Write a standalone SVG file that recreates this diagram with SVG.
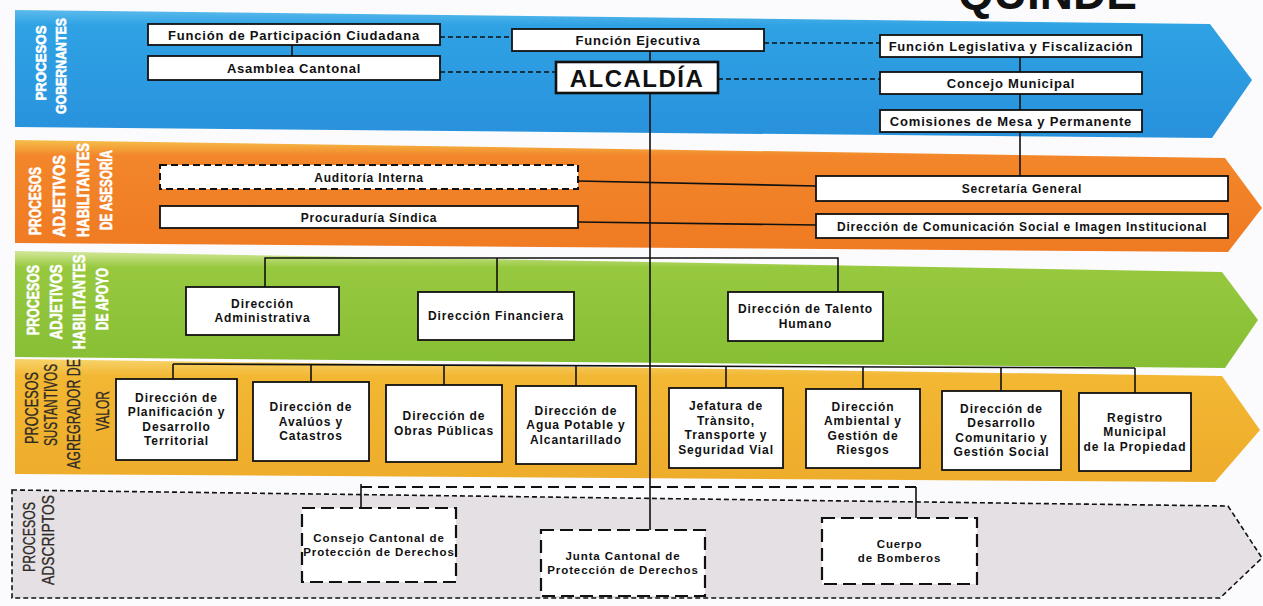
<svg xmlns="http://www.w3.org/2000/svg" width="1263" height="606" viewBox="0 0 1263 606">
<defs>
<linearGradient id="gBlue" x1="0" y1="0" x2="0" y2="1">
<stop offset="0" stop-color="#5bbbec"/><stop offset="0.12" stop-color="#2fa2e4"/><stop offset="1" stop-color="#2891dc"/>
</linearGradient>
<linearGradient id="gOrange" x1="0" y1="0" x2="0" y2="1">
<stop offset="0" stop-color="#f4c04a"/><stop offset="0.14" stop-color="#f3862a"/><stop offset="1" stop-color="#ef7a22"/>
</linearGradient>
<linearGradient id="gGreen" x1="0" y1="0" x2="0" y2="1">
<stop offset="0" stop-color="#d2e79a"/><stop offset="0.14" stop-color="#97c93f"/><stop offset="1" stop-color="#86be34"/>
</linearGradient>
<linearGradient id="gGold" x1="0" y1="0" x2="0" y2="1">
<stop offset="0" stop-color="#f7d36a"/><stop offset="0.14" stop-color="#f2b733"/><stop offset="1" stop-color="#eeac2b"/>
</linearGradient>
</defs>
<style>
.box{fill:#fff;stroke:#111;stroke-width:1.8}
.dbox{fill:#fff;stroke:#111;stroke-width:2;stroke-dasharray:7 4}
.abox{fill:#fff;stroke:#111;stroke-width:2.2;stroke-dasharray:13 6}
.t{font-family:"Liberation Sans",Arial,sans-serif;font-weight:bold;font-size:12px;letter-spacing:0.9px;fill:#111;text-anchor:middle}
.t1{font-size:13px;letter-spacing:0.8px}
.t2{font-size:12px;letter-spacing:0.8px}
.t5{font-size:11.5px}
.big{font-size:24px;letter-spacing:1.5px}
.ln{stroke:#111;stroke-width:1.6;fill:none}
.dl{stroke:#111;stroke-width:1.6;fill:none;stroke-dasharray:5 3}
.bus{stroke:#111;stroke-width:1.8;fill:none;stroke-dasharray:11 6}
.lw{font-family:"Liberation Sans Narrow","Liberation Sans",Arial,sans-serif;font-weight:bold;font-size:17px;fill:#fff;stroke:#fff;stroke-width:0.6;text-anchor:middle}
.ld{font-family:"Liberation Sans Narrow","Liberation Sans",Arial,sans-serif;font-size:18px;fill:#2e2a25;stroke:#2e2a25;stroke-width:0.3;text-anchor:middle}
</style>
<rect width="1263" height="606" fill="#fbfbfd"/>
<text x="1137" y="9" style="font-family:'Liberation Sans',Arial,sans-serif;font-weight:bold;font-size:46px;fill:#111;text-anchor:end">QUINDE</text>

<g id="bands">
<polygon points="15,10 1210,24 1252,80 1212,138 15,127" fill="url(#gBlue)"/>
<polygon points="15,140 1225,158 1262,208 1228,252 15,243" fill="url(#gOrange)"/>
<polygon points="15,251 1222,272 1258,320 1225,368 15,357" fill="url(#gGreen)"/>
<polygon points="15,359 1222,376 1260,430 1215,482 15,474" fill="url(#gGold)"/>
<polygon points="12,490 1228,506 1262,558 1220,598 12,598" fill="#e4e0e4" stroke="#111" stroke-width="1.6" stroke-dasharray="5 3"/>
</g>

<g id="labels">
<text class="lw" style="font-size:15px" transform="translate(45.5,63) rotate(-90)" textLength="75" lengthAdjust="spacingAndGlyphs">PROCESOS</text>
<text class="lw" style="font-size:15px" transform="translate(65.5,66) rotate(-90)" textLength="96" lengthAdjust="spacingAndGlyphs">GOBERNANTES</text>
<text class="lw" transform="translate(41,201) rotate(-90)" textLength="68" lengthAdjust="spacingAndGlyphs">PROCESOS</text>
<text class="lw" transform="translate(65,196) rotate(-90)" textLength="82" lengthAdjust="spacingAndGlyphs">ADJETIVOS</text>
<text class="lw" transform="translate(89,190) rotate(-90)" textLength="94" lengthAdjust="spacingAndGlyphs">HABILITANTES</text>
<text class="lw" transform="translate(112,190) rotate(-90)" textLength="80" lengthAdjust="spacingAndGlyphs">DE ASESORÍA</text>
<text class="lw" transform="translate(39,300) rotate(-90)" textLength="70" lengthAdjust="spacingAndGlyphs">PROCESOS</text>
<text class="lw" transform="translate(62,302) rotate(-90)" textLength="75" lengthAdjust="spacingAndGlyphs">ADJETIVOS</text>
<text class="lw" transform="translate(85,302) rotate(-90)" textLength="95" lengthAdjust="spacingAndGlyphs">HABILITANTES</text>
<text class="lw" transform="translate(108,299) rotate(-90)" textLength="62" lengthAdjust="spacingAndGlyphs">DE APOYO</text>
<text class="ld" transform="translate(38,408) rotate(-90)" textLength="72" lengthAdjust="spacingAndGlyphs">PROCESOS</text>
<text class="ld" transform="translate(57,405) rotate(-90)" textLength="82" lengthAdjust="spacingAndGlyphs">SUSTANTIVOS</text>
<text class="ld" transform="translate(80,414) rotate(-90)" textLength="110" lengthAdjust="spacingAndGlyphs">AGREGRADOR DE</text>
<text class="ld" transform="translate(109,411) rotate(-90)" textLength="40" lengthAdjust="spacingAndGlyphs">VALOR</text>
<text class="ld" style="font-size:17px" transform="translate(35,537) rotate(-90)" textLength="70" lengthAdjust="spacingAndGlyphs">PROCESOS</text>
<text class="ld" style="font-size:17px" transform="translate(54,540) rotate(-90)" textLength="90" lengthAdjust="spacingAndGlyphs">ADSCRIPTOS</text>
</g>

<g id="connectors">
<line class="ln" x1="650" y1="93" x2="650" y2="530"/>
<line class="ln" x1="292" y1="45" x2="292" y2="56"/>
<line class="ln" x1="650" y1="51" x2="650" y2="62"/>
<line class="ln" x1="1020" y1="57" x2="1020" y2="72"/>
<line class="ln" x1="1020" y1="94" x2="1020" y2="110"/>
<line class="ln" x1="1020" y1="132" x2="1020" y2="176"/>
<line class="dl" x1="440" y1="37" x2="512" y2="37"/>
<line class="dl" x1="440" y1="72" x2="556" y2="72"/>
<line class="dl" x1="764" y1="43" x2="880" y2="43"/>
<line class="dl" x1="718" y1="79" x2="880" y2="79"/>
<line class="ln" x1="578" y1="181" x2="816" y2="186"/>
<line class="ln" x1="578" y1="222" x2="816" y2="225"/>
<polyline class="ln" points="265,287 265,258 838,258 838,292"/>
<line class="ln" x1="497" y1="258" x2="497" y2="292"/>
<line class="ln" x1="173" y1="364" x2="1135" y2="368"/>
<line class="ln" x1="173" y1="364" x2="173" y2="379"/>
<line class="ln" x1="311" y1="364.6" x2="311" y2="382"/>
<line class="ln" x1="444" y1="365.2" x2="444" y2="385"/>
<line class="ln" x1="576" y1="365.8" x2="576" y2="386"/>
<line class="ln" x1="726" y1="366.4" x2="726" y2="388"/>
<line class="ln" x1="863" y1="367" x2="863" y2="389"/>
<line class="ln" x1="1001" y1="367.5" x2="1001" y2="391"/>
<line class="ln" x1="1135" y1="368" x2="1135" y2="393"/>
<line class="bus" x1="361" y1="487" x2="916" y2="487"/>
<line class="ln" x1="361" y1="484" x2="361" y2="508"/>
<line class="ln" x1="916" y1="487" x2="916" y2="518"/>
</g>

<g id="n-participacion"><rect class="box" x="148" y="24" width="292" height="21"/><text class="t t1" x="294" y="39.5">Función de Participación Ciudadana</text></g>
<g id="n-asamblea"><rect class="box" x="148" y="56" width="292" height="24"/><text class="t t1" x="294" y="72.5">Asamblea Cantonal</text></g>
<g id="n-ejecutiva"><rect class="box" x="512" y="29" width="252" height="22"/><text class="t t1" x="638" y="44.5">Función Ejecutiva</text></g>
<g id="n-alcaldia"><rect class="box" style="stroke-width:2.6" x="556" y="62" width="162" height="31"/><text class="t big" x="637" y="86.5">ALCALDÍA</text></g>
<g id="n-legislativa"><rect class="box" x="880" y="35" width="262" height="22"/><text class="t t1" x="1011" y="50.5">Función Legislativa y Fiscalización</text></g>
<g id="n-concejo"><rect class="box" x="880" y="72" width="262" height="22"/><text class="t t1" x="1011" y="87.5">Concejo Municipal</text></g>
<g id="n-comisiones"><rect class="box" x="880" y="110" width="262" height="22"/><text class="t t1" x="1011" y="125.5">Comisiones de Mesa y Permanente</text></g>

<g id="n-auditoria"><rect class="dbox" x="160" y="165" width="418" height="24"/><text class="t t2" x="369" y="181.5">Auditoría Interna</text></g>
<g id="n-procuraduria"><rect class="box" x="160" y="206" width="418" height="22"/><text class="t t2" x="369" y="221.5">Procuraduría Síndica</text></g>
<g id="n-secretaria"><rect class="box" x="816" y="176" width="412" height="25"/><text class="t t2" x="1022" y="193">Secretaría General</text></g>
<g id="n-comunicacion"><rect class="box" x="816" y="214" width="412" height="24"/><text class="t t2" x="1022" y="230.5">Dirección de Comunicación  Social e Imagen Institucional</text></g>

<g id="n-administrativa"><rect class="box" x="186" y="287" width="153" height="48"/><text class="t" x="262.5" y="307.75">Dirección</text><text class="t" x="262.5" y="322.25">Administrativa</text></g>
<g id="n-financiera"><rect class="box" x="418" y="292" width="156" height="48"/><text class="t" x="496" y="320">Dirección Financiera</text></g>
<g id="n-talento"><rect class="box" x="728" y="292" width="155" height="49"/><text class="t" x="805.5" y="313.25">Dirección de Talento</text><text class="t" x="805.5" y="327.75">Humano</text></g>

<g id="n-planificacion"><rect class="box" x="116" y="379" width="121" height="81"/><text class="t" x="176.5" y="401.75">Dirección de</text><text class="t" x="176.5" y="416.25">Planificación  y</text><text class="t" x="176.5" y="430.75">Desarrollo</text><text class="t" x="176.5" y="445.25">Territorial</text></g>
<g id="n-avaluos"><rect class="box" x="253" y="382" width="116" height="79"/><text class="t" x="311" y="411">Dirección de</text><text class="t" x="311" y="425.5">Avalúos y</text><text class="t" x="311" y="440">Catastros</text></g>
<g id="n-obras"><rect class="box" x="386" y="385" width="116" height="77"/><text class="t" x="444" y="420.25">Dirección de</text><text class="t" x="444" y="434.75">Obras Públicas</text></g>
<g id="n-agua"><rect class="box" x="516" y="386" width="120" height="78"/><text class="t" x="576" y="414.5">Dirección de</text><text class="t" x="576" y="429">Agua Potable y</text><text class="t" x="576" y="443.5">Alcantarillado</text></g>
<g id="n-transito"><rect class="box" x="669" y="388" width="114" height="80"/><text class="t" x="726" y="410.25">Jefatura  de</text><text class="t" x="726" y="424.75">Trànsito,</text><text class="t" x="726" y="439.25">Transporte y</text><text class="t" x="726" y="453.75">Seguridad  Vial</text></g>
<g id="n-ambiental"><rect class="box" x="806" y="389" width="114" height="79"/><text class="t" x="863" y="410.75">Dirección</text><text class="t" x="863" y="425.25">Ambiental y</text><text class="t" x="863" y="439.75">Gestión de</text><text class="t" x="863" y="454.25">Riesgos</text></g>
<g id="n-comunitario"><rect class="box" x="942" y="391" width="119" height="79"/><text class="t" x="1001.5" y="412.75">Dirección de</text><text class="t" x="1001.5" y="427.25">Desarrollo</text><text class="t" x="1001.5" y="441.75">Comunitario y</text><text class="t" x="1001.5" y="456.25">Gestión Social</text></g>
<g id="n-registro"><rect class="box" x="1079" y="393" width="112" height="78"/><text class="t" x="1135" y="421.5">Registro</text><text class="t" x="1135" y="436">Municipal</text><text class="t" x="1135" y="450.5">de la Propiedad</text></g>

<g id="n-consejo"><rect class="abox" x="302" y="508" width="154" height="74"/><text class="t t5" x="379" y="542">Consejo Cantonal de</text><text class="t t5" x="379" y="556">Protección de Derechos</text></g>
<g id="n-junta"><rect class="abox" x="541" y="530" width="164" height="66"/><text class="t t5" x="623" y="559.5">Junta Cantonal de</text><text class="t t5" x="623" y="573.5">Protección de Derechos</text></g>
<g id="n-bomberos"><rect class="abox" x="822" y="518" width="155" height="66"/><text class="t t5" x="899.5" y="548">Cuerpo</text><text class="t t5" x="899.5" y="562">de Bomberos</text></g>
</svg>
